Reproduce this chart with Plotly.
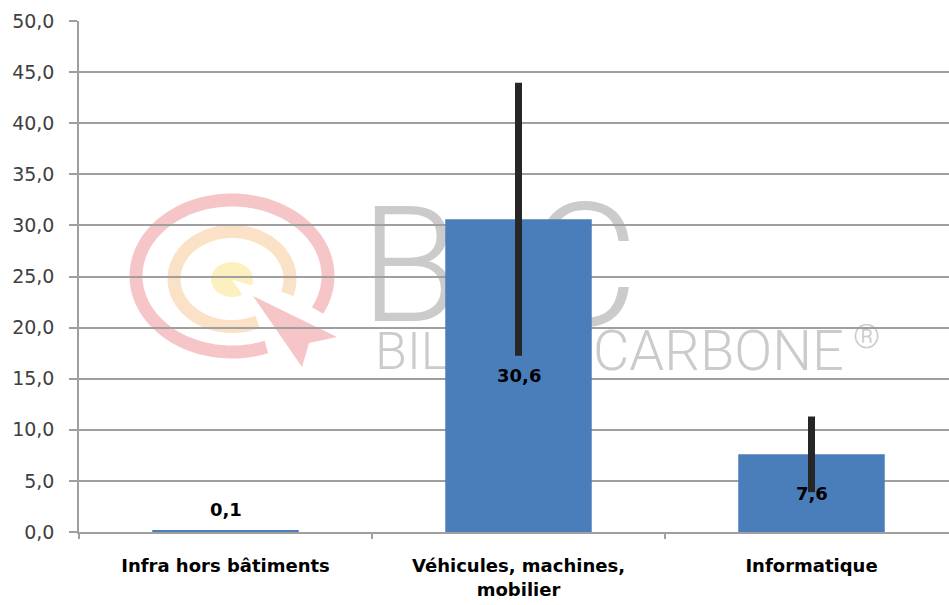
import numpy as np
import plotly.graph_objects as go

# ---------------- data ----------------
categories = ["Infra hors bâtiments", "Véhicules, machines,<br>mobilier", "Informatique"]
values = [0.1, 30.6, 7.6]
errors = [0.0, 13.35, 3.7]
y_tick_values = [0, 5, 10, 15, 20, 25, 30, 35, 40, 45, 50]

# ---------------- style ----------------
BAR_COLOR = "#4a7ebb"
GRID = "#9f9f9f"
TXT = "#404040"
FONT = "DejaVu Sans"
WM_GREY = "#cbcbcb"

fig = go.Figure()
fig.add_trace(go.Bar(
    x=categories, y=values, width=0.5,
    marker=dict(color=BAR_COLOR, line=dict(width=0)),
    error_y=dict(type="data", array=errors, symmetric=True,
                 thickness=7, width=0, color="#262626"),
    hoverinfo="skip",
))

def fmt(v):
    return f"{v:.1f}".replace(".", ",")

for i, (c, v) in enumerate(zip(categories, values)):
    fig.add_annotation(x=c, y=v / 2, text=f"<b>{fmt(v)}</b>", showarrow=False,
                       font=dict(family=FONT, size=18, color="#000000"),
                       yshift=22 if i == 0 else 0)

# ---------------- watermark (logo decoration) ----------------
PL, PB = 79, 532          # plot-area left / bottom in pixels
XPX, YPX = 293.0, 10.22   # pixels per category / per unit


def rel(px, py):
    return px - PL, PB - py


def to_data(px, py):
    return -0.5 + (px - PL) / XPX, (PB - py) / YPX


def arc_path(cx, cy, rx, ry, a0, a1, close_center=False, n=90):
    t = np.radians(np.linspace(a0, a1, n))
    pts = [rel(cx + rx * np.cos(a), cy + ry * np.sin(a)) for a in t]
    if close_center:
        pts = [rel(cx, cy)] + pts
    s = "M " + " L ".join(f"{x:.1f},{y:.1f}" for x, y in pts)
    if close_center:
        s += " Z"
    return s


def poly_path(points):
    pts = [rel(x, y) for x, y in points]
    return "M " + " L ".join(f"{x:.1f},{y:.1f}" for x, y in pts) + " Z"


common = dict(xref="paper", yref="paper", xanchor=0, yanchor=0,
              xsizemode="pixel", ysizemode="pixel", layer="below")

# red ring
fig.add_shape(type="path", path=arc_path(232, 276, 96, 76, 69, 387),
              line=dict(color="#f6c5c7", width=13), **common)
# orange ring
fig.add_shape(type="path", path=arc_path(232, 279, 58, 47.5, 64, 378),
              line=dict(color="#fbe1c6", width=13), **common)
# yellow pie
fig.add_shape(type="path", path=arc_path(232, 279.5, 21, 17.5, 60, 380, close_center=True),
              fillcolor="#fdf0bf", line=dict(width=0), **common)
# arrow
fig.add_shape(type="path",
              path=poly_path([(253, 296), (337, 337), (309, 343), (302, 367)]),
              fillcolor="#f6c5c7", line=dict(width=0), **common)


def wm_text(text, px0, px1, py0, py1, size, weight, pos):
    x0, y0 = to_data(px0, py1)
    x1, y1 = to_data(px1, py0)
    fig.add_shape(type="rect", xref="x", yref="y", x0=x0, x1=x1, y0=y0, y1=y1,
                  layer="below", line=dict(width=0), fillcolor="rgba(0,0,0,0)",
                  label=dict(text=text, textposition=pos, padding=0,
                             font=dict(family="Roboto", size=size, color=WM_GREY,
                                       weight=weight)))


wm_text("B", 360, 460, 186, 322, 162, 300, "middle center")
wm_text("C", 515, 650, 186, 322, 172, 300, "middle center")
wm_text("BILAN", 372, 600, 322, 372, 52, 300, "middle left")
wm_text("CARBONE", 590, 890, 322, 372, 56, 300, "middle left")
wm_text("®", 850, 890, 318, 350, 34, 300, "middle left")

# ---------------- layout ----------------
fig.update_layout(
    width=949, height=605,
    margin=dict(l=79, r=0, t=21, b=73, pad=0),
    paper_bgcolor="white", plot_bgcolor="white",
    separators=", ",
    showlegend=False,
    bargap=0.5,
    font=dict(family=FONT, color=TXT),
)
fig.update_yaxes(
    range=[0, 50], tickvals=y_tick_values, tickformat=".1f",
    showgrid=True, gridcolor=GRID, gridwidth=1.5,
    showline=True, linecolor=GRID, linewidth=1.5,
    ticks="outside", ticklen=8, tickcolor=GRID, tickwidth=1.5,
    tickfont=dict(family=FONT, size=19, color=TXT),
    ticklabelstandoff=11, zeroline=False, fixedrange=True,
)
fig.update_xaxes(
    range=[-0.5, -0.5 + 870 / XPX],
    showline=True, linecolor=GRID, linewidth=1.5,
    ticks="outside", ticklen=5, tickcolor=GRID, tickwidth=1.5,
    tickson="boundaries",
    tickfont=dict(family=FONT, size=18, color="#000000", weight="bold"),
    ticklabelstandoff=17, fixedrange=True,
)

fig.write_html(
    "out.html",
    config={"displayModeBar": False},
    post_script="document.body.style.margin='0';document.body.style.overflow='hidden';",
)
